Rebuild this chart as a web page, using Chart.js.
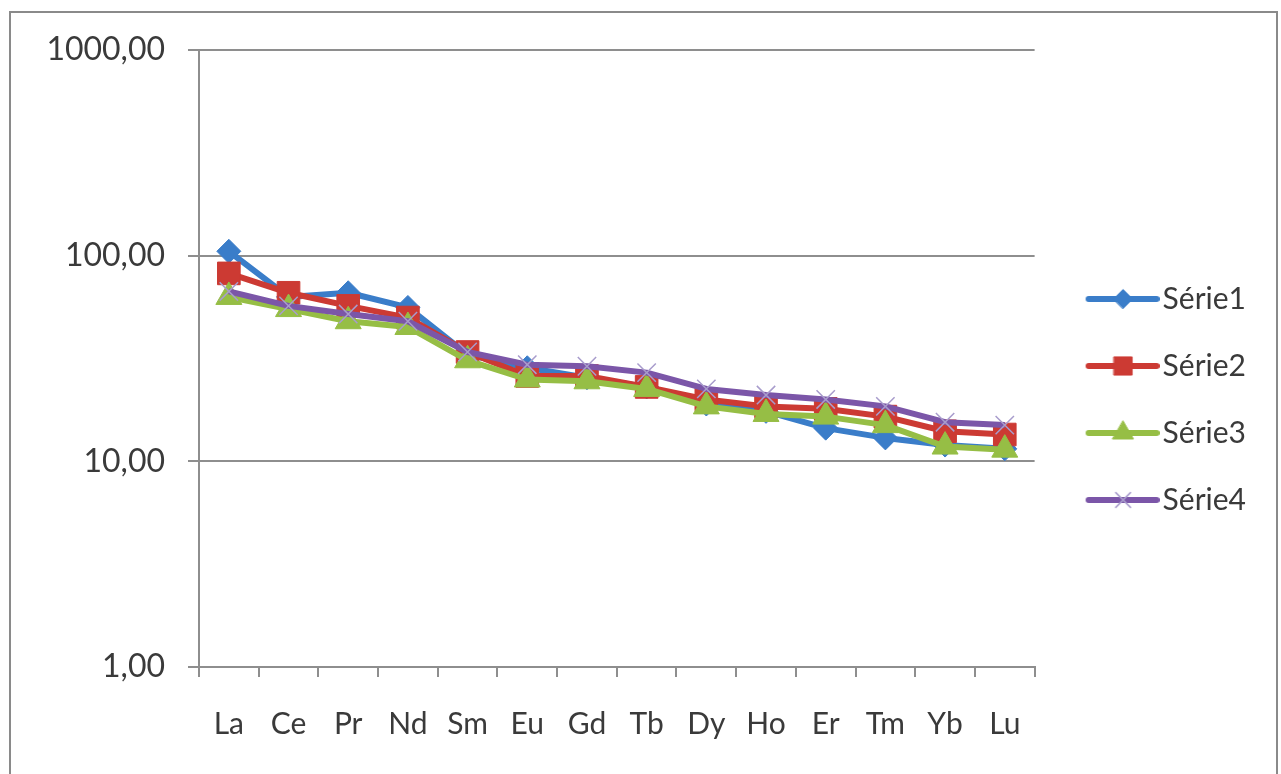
<!DOCTYPE html>
<html lang="fr">
<head>
  <meta charset="UTF-8">
  <title>Terres rares</title>
  <script src="https://cdn.jsdelivr.net/npm/chart.js"></script>
  <style>
    body { margin: 0; background: #fff; }
    #frame { position: absolute; left: 9px; top: 11px; width: 1265px; height: 800px; border: 2px solid #8a8a8a; }
    #chart { position: absolute; left: 0; top: 0; }
  </style>
</head>
<body>
<div id="frame"></div>
<canvas id="chart" width="1281" height="774"></canvas>

<script>
  // Data
  const categories = ['La', 'Ce', 'Pr', 'Nd', 'Sm', 'Eu', 'Gd', 'Tb', 'Dy', 'Ho', 'Er', 'Tm', 'Yb', 'Lu'];
  const serie1 = [105, 63, 66, 56, 33, 28.5, 25.5, 23, 19, 17.5, 14.5, 13, 12, 11.5];
  const serie2 = [82, 66, 57, 50, 34, 26, 26, 23, 20, 18.5, 18, 16.5, 14, 13.5];
  const serie3 = [63, 55, 48, 45, 31, 25, 24.5, 22.5, 18.5, 17, 16.5, 15, 11.8, 11.4];
  const serie4 = [67, 57, 52, 48, 34, 29.5, 29, 27, 22.5, 21, 20, 18.5, 15.5, 15];
  const yTicks = [1, 10, 100, 1000];

  const fontFamily = 'Lato, "Open Sans", sans-serif';
  const textColor = '#3a3a3a';
  const gridColor = '#8e8e8e';

  const styles = [
    { label: 'Série1', data: serie1, color: '#3a7dc9', point: 'rectRot', radius: 12, fill: '#3a7dc9', border: '#3a7dc9', bw: 1 },
    { label: 'Série2', data: serie2, color: '#cc3a33', point: 'rect', radius: 16, fill: '#cc3a33', border: '#cc3a33', bw: 1 },
    { label: 'Série3', data: serie3, color: '#96be45', point: 'triangle', radius: 15, fill: '#96be45', border: '#96be45', bw: 1 },
    { label: 'Série4', data: serie4, color: '#7b56a8', point: 'crossRot', radius: 13, fill: '#a89ccc', border: '#a89ccc', bw: 1.5 }
  ];

  // legend symbol: line with the marker in the middle
  function legendImage(s) {
    const c = document.createElement('canvas');
    c.width = 100;
    c.height = 30;
    const g = c.getContext('2d');
    g.strokeStyle = s.color;
    g.lineWidth = 6;
    g.lineCap = 'round';
    g.beginPath();
    g.moveTo(29, 15);
    g.lineTo(97, 15);
    g.stroke();
    g.fillStyle = s.fill;
    g.strokeStyle = s.border;
    g.lineWidth = s.bw;
    Chart.helpers.drawPoint(g, { pointStyle: s.point, radius: s.radius * 0.8, rotation: 0, borderWidth: s.bw }, 63.5, 15);
    return c;
  }

  const datasets = styles.map((s, i) => ({
    label: s.label,
    data: s.data,
    borderColor: s.color,
    backgroundColor: s.color,
    borderWidth: 6,
    borderJoinStyle: 'round',
    tension: 0,
    pointStyle: s.point,
    pointRadius: s.radius,
    pointHoverRadius: s.radius,
    pointBackgroundColor: s.fill,
    pointBorderColor: s.border,
    pointBorderWidth: s.bw,
    order: styles.length - i
  }));

  const ctx = document.getElementById('chart').getContext('2d');
  new Chart(ctx, {
    type: 'line',
    data: { labels: categories, datasets: datasets },
    options: {
      responsive: false,
      animation: false,
      devicePixelRatio: 1,
      layout: { padding: { left: 0, right: 25, top: 50, bottom: 25 } },
      plugins: {
        tooltip: { enabled: false },
        legend: {
          position: 'right',
          labels: {
            usePointStyle: true,
            pointStyleWidth: 76,
            padding: 37,
            color: textColor,
            font: { family: fontFamily, size: 30 },
            sort: (a, b) => a.datasetIndex - b.datasetIndex,
            generateLabels: (chart) => {
              const items = Chart.defaults.plugins.legend.labels.generateLabels(chart);
              items.forEach(it => { it.pointStyle = legendImage(styles[it.datasetIndex]); });
              return items;
            }
          }
        }
      },
      scales: {
        x: {
          type: 'category',
          offset: true,
          grid: { display: true, drawOnChartArea: false, drawTicks: true, tickLength: 10, color: gridColor, lineWidth: 2, offset: true },
          border: { display: true, color: gridColor, width: 2 },
          ticks: { color: textColor, font: { family: fontFamily, size: 30 }, padding: 29, maxRotation: 0, autoSkip: false },
          afterFit: (scale) => { scale.height = 82; }
        },
        y: {
          type: 'logarithmic',
          min: 1,
          max: 1000,
          afterBuildTicks: (scale) => { scale.ticks = yTicks.map(v => ({ value: v, major: true })); },
          grid: { color: gridColor, lineWidth: 2, tickLength: 11, drawTicks: true },
          border: { display: true, color: gridColor, width: 2 },
          ticks: {
            color: textColor,
            font: { family: fontFamily, size: 32 },
            padding: 23,
            callback: (v) => Number(v).toFixed(2).replace('.', ',')
          },
          afterFit: (scale) => { scale.width = 199; }
        }
      }
    }
  });
</script>
</body>
</html>
